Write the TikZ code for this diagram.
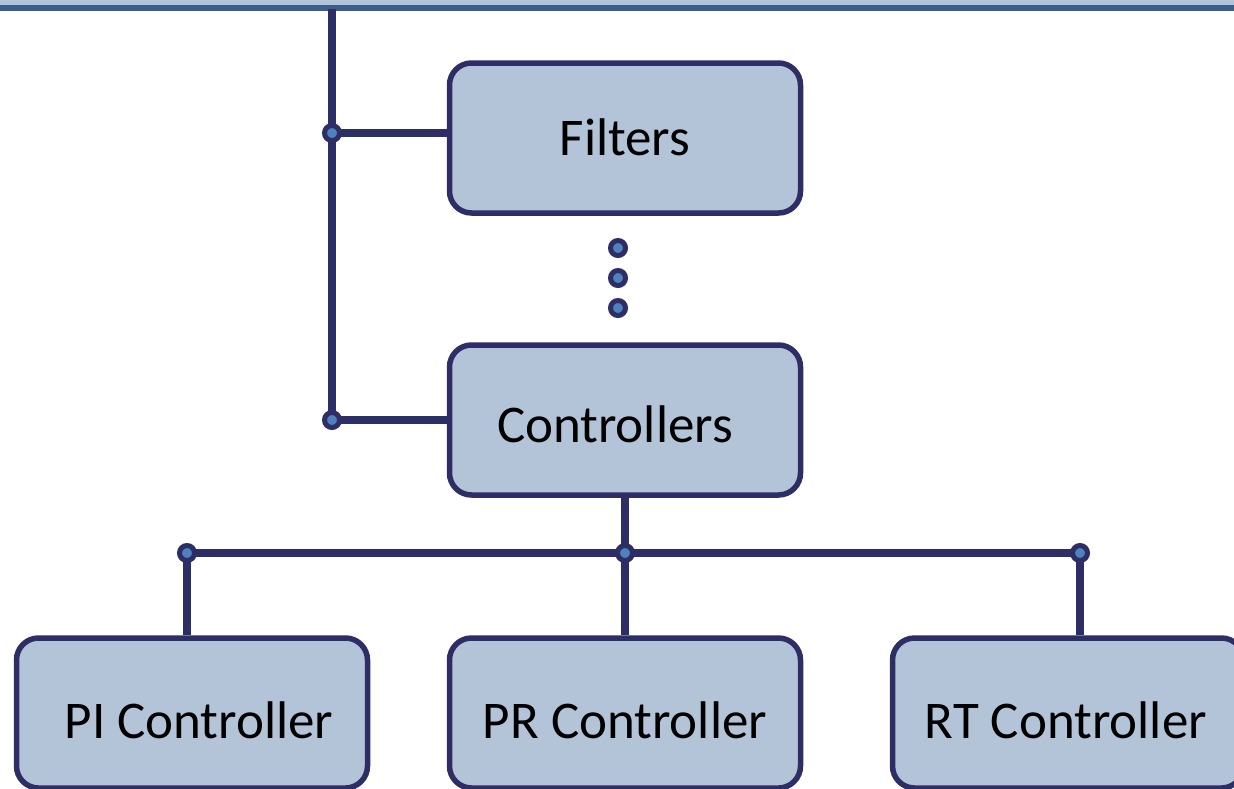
\documentclass[tikz,border=0pt]{standalone}
\usepackage{fontspec}
\setmainfont{Carlito}
\definecolor{navy}{HTML}{2E2E66}
\definecolor{boxfill}{HTML}{B4C4D8}
\definecolor{dotblue}{HTML}{4F81BD}
\definecolor{barlight}{HTML}{B3C3D8}
\definecolor{bardark}{HTML}{3B5E8C}
\begin{document}
\begin{tikzpicture}[x=1pt,y=-1pt,
  blk/.style={draw=navy, fill=boxfill, line width=5.5pt, rounded corners=22pt,
    minimum width=351pt, minimum height=150pt, inner sep=0pt, text depth=0pt,
    font=\fontsize{53}{60}\selectfont, text=black},
  wire/.style={draw=navy, line width=7.5pt},
  jdot/.style={circle, draw=navy, fill=dotblue, line width=5pt, minimum size=15pt, inner sep=0pt}]
\useasboundingbox (0,0) rectangle (1234,788);
\clip (0,0) rectangle (1234,788);
% top bar
\fill[barlight] (0,0) rectangle (1234,5);
\fill[bardark] (0,5) rectangle (1234,11);
% boxes
\node[blk, text height=34pt] (filters) at (625,138) {Filters};
\node[blk, text height=44pt] (ctrl) at (625,420) {Controllers\hspace*{20pt}};
\node[blk, text height=50pt] (pi) at (192,713) {\hspace*{14pt}PI Controller};
\node[blk, text height=50pt] (pr) at (625,713) {PR Controller};
\node[blk, text height=50pt] (rt) at (1068,713) {RT Controller\hspace*{4pt}};
% coordinates
\coordinate (top) at (332,9);
\coordinate (j1) at (332,133);
\coordinate (j2) at (332,420);
\coordinate (bl) at (187,553);
\coordinate (bm) at (625,553);
\coordinate (br) at (1080,553);
% wires
\draw[wire] (top) -- (j2);
\draw[wire] (j1) -- (j1 -| filters.west);
\draw[wire] (j2) -- (ctrl.west);
\draw[wire] (ctrl.south) -- (bm);
\draw[wire] (bl) -- (br);
\draw[wire] (bl) -- (bl |- pi.north);
\draw[wire] (bm) -- (pr.north);
\draw[wire] (br) -- (br |- rt.north);
% junction dots
\node[jdot] (d1) at (j1) {};
\node[jdot] (d2) at (j2) {};
\node[jdot] (d3) at (bl) {};
\node[jdot] (d4) at (bm) {};
\node[jdot] (d5) at (br) {};
% ellipsis dots
\node[jdot] (e1) at (618,248) {};
\node[jdot] (e2) at (618,278) {};
\node[jdot] (e3) at (618,308) {};
\end{tikzpicture}
\end{document}
